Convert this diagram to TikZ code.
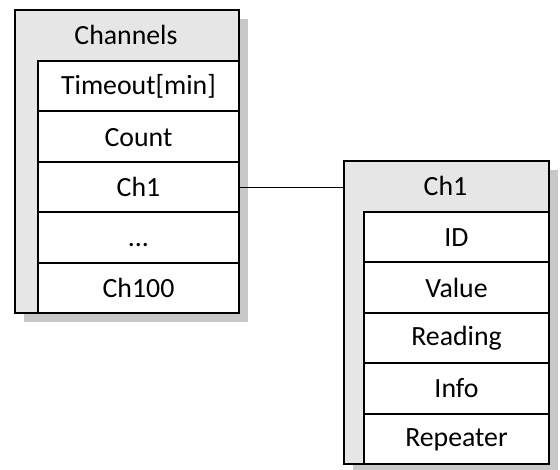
\documentclass[tikz,border=0pt]{standalone}
\usepackage{fontspec}
\setmainfont{Carlito}
\definecolor{framegray}{HTML}{E6E6E6}
\definecolor{shadowgray}{HTML}{C8C8C8}
\newcommand{\diagfont}{\fontsize{27.8}{32}\selectfont}
\begin{document}
\begin{tikzpicture}[x=1pt,y=-1pt,
  frame/.style={draw=black, line width=2pt, fill=framegray, inner sep=0pt, anchor=north west},
  shadowbox/.style={fill=shadowgray, inner sep=0pt, anchor=north west},
  rowbox/.style={draw=black, line width=2pt, fill=white, inner sep=0pt, anchor=north west,
                 minimum height=50.4pt, font=\diagfont, execute at begin node=\vphantom{Ch}},
  titletext/.style={font=\diagfont, inner sep=0pt, anchor=center},
  link/.style={draw=black, line width=0.9pt}]
\useasboundingbox (0,0) rectangle (560,469);
% left table
\node[shadowbox, minimum width=224pt, minimum height=303pt] (lshadow) at (24,19) {};
\node[frame, minimum width=224pt, minimum height=303pt] (lframe) at (14,9) {};
\node[titletext] (ltitle) at (126,35) {Channels};
\node[rowbox, minimum width=201pt] (ltimeout) at (37,60) {Timeout[min]};
\node[rowbox, minimum width=201pt] (lcount) at (37,110.4) {Count};
\node[rowbox, minimum width=201pt] (lch1) at (37,160.8) {Ch1};
\node[rowbox, minimum width=201pt] (ldots) at (37,211.2) {...};
\node[rowbox, minimum width=201pt] (lch100) at (37,261.6) {Ch100};
% right table
\node[shadowbox, minimum width=205pt, minimum height=303pt] (rshadow) at (353,170) {};
\node[frame, minimum width=205pt, minimum height=303pt] (rframe) at (343,160) {};
\node[titletext] (rtitle) at (445.5,186) {Ch1};
\node[rowbox, minimum width=185pt] (rid) at (363,211) {ID};
\node[rowbox, minimum width=185pt] (rvalue) at (363,261.4) {Value};
\node[rowbox, minimum width=185pt] (rreading) at (363,311.8) {Reading};
\node[rowbox, minimum width=185pt] (rinfo) at (363,362.2) {Info};
\node[rowbox, minimum width=185pt] (rrepeater) at (363,412.6) {Repeater};
% connector
\draw[link] (lch1.east) -- (lch1.east -| rframe.west);
\end{tikzpicture}
\end{document}
